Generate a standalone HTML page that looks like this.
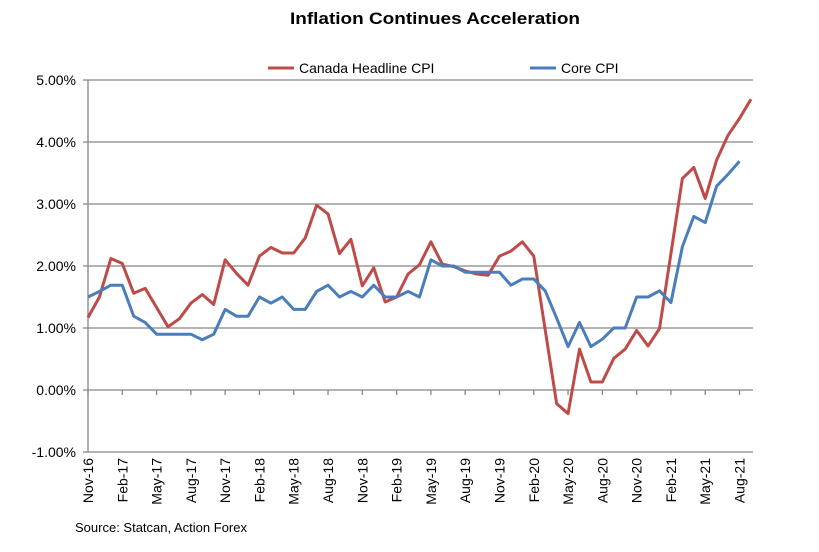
<!DOCTYPE html>
<html><head><meta charset="utf-8"><style>
body{margin:0;background:#fff;width:819px;height:547px;overflow:hidden;font-family:"Liberation Sans",Arial,sans-serif}
</style></head><body>
<svg id="chart" width="819" height="547" xmlns="http://www.w3.org/2000/svg" font-family="Liberation Sans, Arial, sans-serif">
<text x="435" y="24" text-anchor="middle" font-size="17" font-weight="bold" textLength="290" lengthAdjust="spacingAndGlyphs">Inflation Continues Acceleration</text>
<g>
<line x1="268" y1="68" x2="294" y2="68" stroke="#BE4B48" stroke-width="3"/>
<text x="299" y="73" font-size="14">Canada Headline CPI</text>
<line x1="530" y1="68" x2="556" y2="68" stroke="#4A7EBB" stroke-width="3"/>
<text x="561" y="73" font-size="14">Core CPI</text>
</g>
<g id="grid"></g><g id="axes"></g><g id="series"></g>
<text x="75" y="532" font-size="13">Source: Statcan, Action Forex</text>
</svg>
<script>
const categories=["Nov-16","Dec-16","Jan-17","Feb-17","Mar-17","Apr-17","May-17","Jun-17","Jul-17","Aug-17","Sep-17","Oct-17","Nov-17","Dec-17","Jan-18","Feb-18","Mar-18","Apr-18","May-18","Jun-18","Jul-18","Aug-18","Sep-18","Oct-18","Nov-18","Dec-18","Jan-19","Feb-19","Mar-19","Apr-19","May-19","Jun-19","Jul-19","Aug-19","Sep-19","Oct-19","Nov-19","Dec-19","Jan-20","Feb-20","Mar-20","Apr-20","May-20","Jun-20","Jul-20","Aug-20","Sep-20","Oct-20","Nov-20","Dec-20","Jan-21","Feb-21","Mar-21","Apr-21","May-21","Jun-21","Jul-21","Aug-21","Sep-21"];
const headline=[1.17,1.50,2.12,2.04,1.56,1.64,1.33,1.02,1.15,1.40,1.54,1.38,2.10,1.88,1.69,2.16,2.30,2.21,2.21,2.45,2.98,2.84,2.20,2.43,1.68,1.97,1.42,1.50,1.87,2.02,2.39,2.03,1.99,1.92,1.87,1.85,2.16,2.24,2.39,2.16,0.97,-0.22,-0.38,0.66,0.13,0.13,0.51,0.66,0.96,0.71,0.99,2.20,3.41,3.59,3.09,3.71,4.11,4.38,4.69];
const core=[1.50,1.59,1.69,1.69,1.19,1.09,0.90,0.90,0.90,0.90,0.81,0.90,1.30,1.19,1.19,1.50,1.40,1.50,1.30,1.30,1.59,1.69,1.50,1.59,1.50,1.69,1.50,1.50,1.59,1.50,2.10,2.00,2.00,1.90,1.90,1.90,1.90,1.69,1.79,1.79,1.60,1.16,0.70,1.09,0.70,0.82,1.00,1.00,1.50,1.50,1.60,1.41,2.31,2.80,2.70,3.29,3.48,3.69];
const yTicks=[-1,0,1,2,3,4,5];
const NS="http://www.w3.org/2000/svg";
const X0=88,X1=753,Y0=390,PX=62;
const step=11.43;
const xs=i=>X0+i*step;
const ys=v=>Y0-v*PX;
function mk(t,a,p){const e=document.createElementNS(NS,t);for(const k in a)e.setAttribute(k,a[k]);p.appendChild(e);return e;}
const grid=document.getElementById('grid'),axes=document.getElementById('axes'),ser=document.getElementById('series');
yTicks.forEach(v=>{
  const g=mk('line',{x1:X0-5,x2:X1,y1:ys(v),y2:ys(v),stroke:'#868686','stroke-width':1.3},grid);
  
  
  const t=mk('text',{x:76,y:ys(v)+5,'text-anchor':'end','font-size':14},axes);
  t.textContent=v.toFixed(2)+'%';
  
  
});
const ax=mk('line',{x1:X0,x2:X0,y1:ys(5),y2:ys(-1),stroke:'#868686','stroke-width':1.3},axes);


categories.forEach((c,i)=>{
  if(i%3!==0)return;
  const tk=mk('line',{x1:xs(i),x2:xs(i),y1:Y0,y2:Y0+5,stroke:'#868686','stroke-width':1.3},axes);
  
  
  const t=mk('text',{x:0,y:0,'text-anchor':'end','font-size':14,transform:`translate(${xs(i)+5},458) rotate(-90)`},axes);
  t.textContent=c;
  
  
});
function line(data,color,name){
  const p=mk('polyline',{points:data.map((v,i)=>xs(i)+','+ys(v)).join(' '),fill:'none',stroke:color,'stroke-width':3,'stroke-linejoin':'round'},ser);
  
  
}
line(headline,'#BE4B48','headline-cpi-line');
line(core,'#4A7EBB','core-cpi-line');
</script>
</body></html>
